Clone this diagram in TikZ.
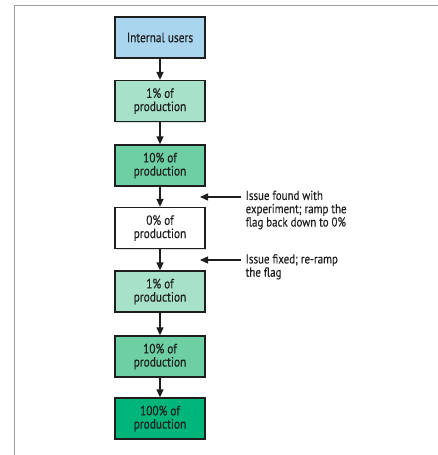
\documentclass[tikz,border=0pt]{standalone}
\usepackage{fontspec}
\setmainfont{PT Sans}[FakeStretch=0.84,FakeBold=0.25]
\usetikzlibrary{arrows.meta,shadows}
\definecolor{bluebox}{HTML}{A9D5EE}
\definecolor{g1}{HTML}{A6E1C8}
\definecolor{g2}{HTML}{6DCFA3}
\definecolor{g3}{HTML}{00B57A}
\definecolor{framegray}{HTML}{A0A0A0}
\definecolor{ink}{HTML}{1E1E1E}
\begin{document}
\begin{tikzpicture}[x=1pt,y=-1pt,
  stepbox/.style={draw=ink,line width=1.3pt,minimum width=90pt,minimum height=41pt,inner sep=1pt,align=center,text=ink,font=\fontsize{13.5}{13.2}\selectfont,drop shadow={shadow xshift=1pt,shadow yshift=-1pt,opacity=0.25}},
  flow/.style={-{Triangle[length=8pt,width=7pt]},line width=1.3pt,draw=ink},
  note/.style={anchor=north west,align=left,inner sep=0pt,text=ink,font=\fontsize{13}{13.3}\selectfont}]
\useasboundingbox (0,0) rectangle (438,455);
\draw[framegray,line width=1pt] (14,455) -- (14,5) -- (438,5);
\node[stepbox,fill=bluebox] (n1) at (160,37.5) {Internal users};
\node[stepbox,fill=g1] (n2) at (160,101) {1\% of\\production};
\node[stepbox,fill=g2] (n3) at (160,165.5) {10\% of\\production};
\node[stepbox,fill=white] (n4) at (160,228) {0\% of\\production};
\node[stepbox,fill=g1] (n5) at (160,291.5) {1\% of\\production};
\node[stepbox,fill=g2] (n6) at (160,356.5) {10\% of\\production};
\node[stepbox,fill=g3] (n7) at (160,418.5) {100\% of\\production};
\foreach \a/\b in {n1/n2,n2/n3,n3/n4,n4/n5,n5/n6,n6/n7}
  \draw[flow] (\a) -- (\b);
\coordinate (t1) at (200,197);
\coordinate (s1) at (241,197);
\coordinate (t2) at (200,260);
\coordinate (s2) at (241,260);
\draw[flow] (s1) -- (t1);
\draw[flow] (s2) -- (t2);
\node[note] (c1) at (245.5,190.5) {Issue found with\\experiment; ramp the\\flag back down to 0\%};
\node[note] (c2) at (245.5,254) {Issue fixed; re-ramp\\the flag};
\end{tikzpicture}
\end{document}
